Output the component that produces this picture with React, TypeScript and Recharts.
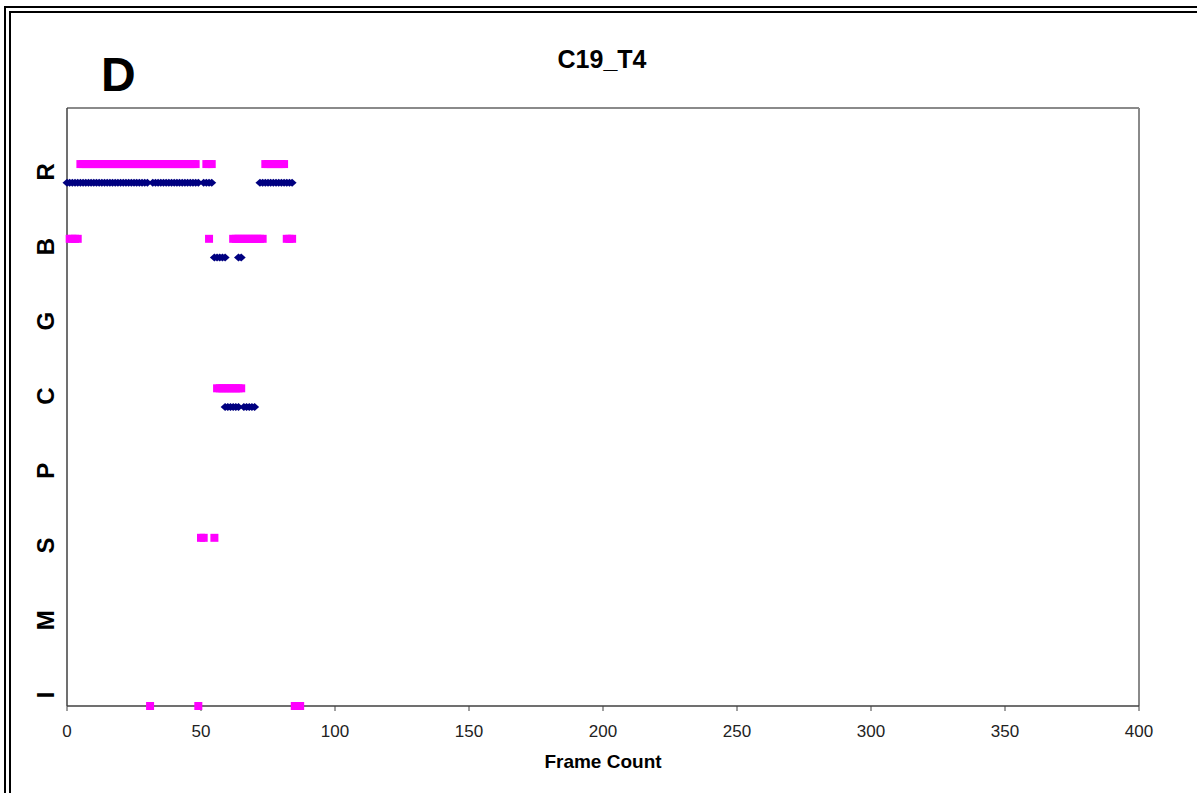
import { ScatterChart, Scatter, XAxis, YAxis, ReferenceLine } from "recharts";

const categories = ["I", "M", "S", "P", "C", "G", "B", "R"];
const xTicks = [0, 50, 100, 150, 200, 250, 300, 350, 400];
const yTicks = [0, 1, 2, 3, 4, 5, 6, 7];

// observed frames: blue diamonds on the category line
const blueR = [
  0, 1, 2, 3, 4, 5, 6, 7, 8, 9, 10, 11, 12, 13, 14, 15, 16, 17, 18, 19, 20, 21, 22, 23, 24, 25, 26, 27, 28, 29, 30,
  32, 33, 34, 35, 36, 37, 38, 39, 40, 41, 42, 43, 44, 45, 46, 47, 48, 49, 51, 52, 53, 54,
  72, 73, 74, 75, 76, 77, 78, 79, 80, 81, 82, 83, 84,
];
const blueB = [55, 56, 57, 58, 59, 64, 65];
const blueC = [59, 60, 61, 62, 63, 64, 66, 67, 68, 69, 70];

// coded frames: magenta squares, a quarter step above the line (I sits on the axis)
const pinkR = [
  5, 6, 7, 8, 9, 10, 11, 12, 13, 14, 15, 16, 17, 18, 19, 20, 21, 22, 23, 24, 25, 26, 27, 28, 29, 30,
  31, 32, 33, 34, 35, 36, 37, 38, 39, 40, 41, 42, 43, 44, 45, 46, 47, 48, 52, 53, 54,
  74, 75, 76, 77, 78, 79, 80, 81,
];
const pinkB = [1, 2, 3, 4, 53, 62, 63, 64, 65, 66, 67, 68, 69, 70, 71, 72, 73, 82, 83, 84];
const pinkC = [56, 57, 58, 59, 60, 61, 62, 63, 64, 65];
const pinkS = [50, 51, 55];
const pinkI = [31, 49, 85, 86, 87];

const pts = (frames: number[], level: number) => frames.map((f) => ({ x: f, y: level }));

const blueData = [...pts(blueR, 7), ...pts(blueB, 6), ...pts(blueC, 4)];
const pinkData = [
  ...pts(pinkR, 7.25),
  ...pts(pinkB, 6.25),
  ...pts(pinkC, 4.25),
  ...pts(pinkS, 2.25),
  ...pts(pinkI, 0),
];

const FONT = '"Liberation Sans", Arial, sans-serif';

const Diamond = (p: any) => (
  <polygon
    points={`${p.cx - 4.5},${p.cy} ${p.cx},${p.cy - 4} ${p.cx + 4.5},${p.cy} ${p.cx},${p.cy + 4}`}
    fill="#000080"
  />
);

const Square = (p: any) => (
  <rect x={p.cx - 4} y={p.cy - 4} width={8} height={8} fill="#ff00ff" />
);

const XTick = (p: any) => (
  <text x={p.x} y={p.y + 24} textAnchor="middle" fontFamily={FONT} fontSize={17} fill="#222">
    {p.payload.value}
  </text>
);

const YTick = (p: any) => {
  const cx = 45;
  const cy = p.y - 11;
  return (
    <text
      x={cx}
      y={cy}
      transform={`rotate(-90 ${cx} ${cy})`}
      textAnchor="middle"
      dominantBaseline="central"
      fontFamily={FONT}
      fontWeight="bold"
      fontSize={24}
      fill="#000"
    >
      {categories[p.payload.value]}
    </text>
  );
};

export default function App() {
  return (
    <div style={{ position: "absolute", left: 0, top: 0, width: 1197, height: 793, background: "#fff", overflow: "hidden" }}>
      <div
        style={{
          position: "absolute",
          left: 4,
          top: 6,
          width: 1300,
          height: 900,
          borderLeft: "7px double #000",
          borderTop: "7px double #000",
        }}
      />
      <div style={{ position: "absolute", left: 101, top: 46, fontFamily: FONT, fontWeight: "bold", fontSize: 48, lineHeight: "58px" }}>
        D
      </div>
      <div style={{ position: "absolute", left: 0, width: 1204, top: 45, textAlign: "center", fontFamily: FONT, fontWeight: "bold", fontSize: 25, lineHeight: "28px" }}>
        C19_T4
      </div>
      <div style={{ position: "absolute", left: 0, top: 0 }}>
        <ScatterChart width={1197} height={793} margin={{ top: 108, right: 58, bottom: 25, left: 10 }}>
          <XAxis
            dataKey="x"
            type="number"
            domain={[0, 400]}
            ticks={xTicks}
            height={62}
            tickSize={5}
            tickMargin={2}
            tick={<XTick />}
            tickLine={{ stroke: "#404040" }}
            axisLine={{ stroke: "#404040", strokeWidth: 1.5 }}
            label={{
              value: "Frame Count",
              position: "insideBottom",
              offset: 0,
              style: { fontFamily: FONT, fontWeight: "bold", fontSize: 19, fill: "#000" },
            }}
          />
          <YAxis
            dataKey="y"
            type="number"
            domain={[0, 8]}
            ticks={yTicks}
            width={57}
            tickLine={false}
            tick={<YTick />}
            axisLine={{ stroke: "#404040", strokeWidth: 1.5 }}
          />
          <ReferenceLine y={8} stroke="#8a8a8a" strokeWidth={2} />
          <ReferenceLine x={400} stroke="#8a8a8a" strokeWidth={2} />
          <Scatter data={blueData} shape={<Diamond />} isAnimationActive={false} />
          <Scatter data={pinkData} shape={<Square />} isAnimationActive={false} />
        </ScatterChart>
      </div>
    </div>
  );
}
